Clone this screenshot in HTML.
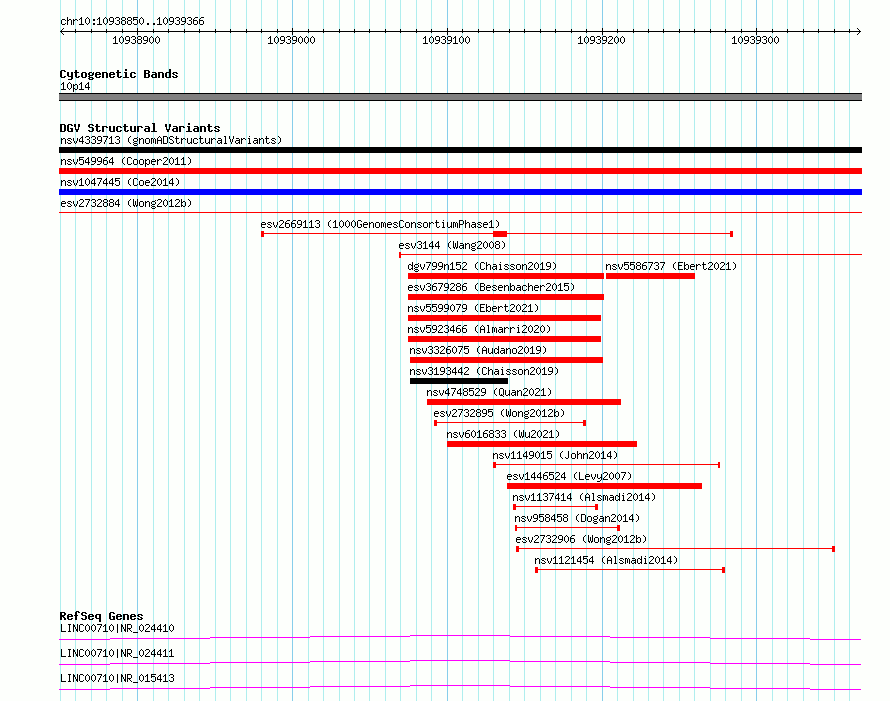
<!DOCTYPE html>
<html lang="en">
<head>
<meta charset="utf-8">
<title>chr10:10938850..10939366</title>
<style>
html,body{margin:0;padding:0;background:#fdfffc;overflow:hidden}
#panel{position:relative;width:890px;height:701px;background:#fdfffc;overflow:hidden}
#panel svg{position:absolute;left:0;top:0;display:block}
.t{position:absolute;margin:0;white-space:pre;color:transparent;font-family:"Liberation Mono",monospace;font-size:10px;line-height:13px;height:13px}
.t.b{font-weight:bold;font-size:11.66px}
</style>
</head>
<body>
<div id="panel">
<svg width="890" height="701" viewBox="0 0 890 701" shape-rendering="crispEdges">
<defs>
<path id="s40" d="M3 3h1v1h-1zM2 4h1v1h-1zM1 5h1v1h-1zM1 6h1v1h-1zM1 7h1v1h-1zM1 8h1v1h-1zM2 9h1v1h-1zM3 10h1v1h-1z"/>
<path id="s41" d="M1 3h1v1h-1zM2 4h1v1h-1zM3 5h1v1h-1zM3 6h1v1h-1zM3 7h1v1h-1zM3 8h1v1h-1zM2 9h1v1h-1zM1 10h1v1h-1z"/>
<path id="s46" d="M2 9h2v1h-2zM2 10h2v1h-2z"/>
<path id="s48" d="M2 3h1v1h-1zM1 4h1v1h-1zM3 4h1v1h-1zM0 5h1v1h-1zM4 5h1v1h-1zM0 6h1v1h-1zM4 6h1v1h-1zM0 7h1v1h-1zM4 7h1v1h-1zM0 8h1v1h-1zM4 8h1v1h-1zM1 9h1v1h-1zM3 9h1v1h-1zM2 10h1v1h-1z"/>
<path id="s49" d="M2 3h1v1h-1zM1 4h2v1h-2zM0 5h1v1h-1zM2 5h1v1h-1zM2 6h1v1h-1zM2 7h1v1h-1zM2 8h1v1h-1zM2 9h1v1h-1zM0 10h5v1h-5z"/>
<path id="s50" d="M1 3h3v1h-3zM0 4h1v1h-1zM4 4h1v1h-1zM4 5h1v1h-1zM3 6h1v1h-1zM2 7h1v1h-1zM1 8h1v1h-1zM0 9h1v1h-1zM0 10h5v1h-5z"/>
<path id="s51" d="M1 3h3v1h-3zM0 4h1v1h-1zM4 4h1v1h-1zM4 5h1v1h-1zM2 6h2v1h-2zM4 7h1v1h-1zM4 8h1v1h-1zM0 9h1v1h-1zM4 9h1v1h-1zM1 10h3v1h-3z"/>
<path id="s52" d="M3 3h1v1h-1zM2 4h2v1h-2zM1 5h1v1h-1zM3 5h1v1h-1zM0 6h1v1h-1zM3 6h1v1h-1zM0 7h1v1h-1zM3 7h1v1h-1zM0 8h5v1h-5zM3 9h1v1h-1zM3 10h1v1h-1z"/>
<path id="s53" d="M0 3h5v1h-5zM0 4h1v1h-1zM0 5h4v1h-4zM0 6h1v1h-1zM4 6h1v1h-1zM4 7h1v1h-1zM4 8h1v1h-1zM0 9h1v1h-1zM4 9h1v1h-1zM1 10h3v1h-3z"/>
<path id="s54" d="M2 3h3v1h-3zM1 4h1v1h-1zM0 5h1v1h-1zM0 6h4v1h-4zM0 7h1v1h-1zM4 7h1v1h-1zM0 8h1v1h-1zM4 8h1v1h-1zM0 9h1v1h-1zM4 9h1v1h-1zM1 10h3v1h-3z"/>
<path id="s55" d="M0 3h5v1h-5zM4 4h1v1h-1zM3 5h1v1h-1zM3 6h1v1h-1zM2 7h1v1h-1zM2 8h1v1h-1zM1 9h1v1h-1zM1 10h1v1h-1z"/>
<path id="s56" d="M1 3h3v1h-3zM0 4h1v1h-1zM4 4h1v1h-1zM0 5h1v1h-1zM4 5h1v1h-1zM1 6h3v1h-3zM0 7h1v1h-1zM4 7h1v1h-1zM0 8h1v1h-1zM4 8h1v1h-1zM0 9h1v1h-1zM4 9h1v1h-1zM1 10h3v1h-3z"/>
<path id="s57" d="M1 3h3v1h-3zM0 4h1v1h-1zM4 4h1v1h-1zM0 5h1v1h-1zM4 5h1v1h-1zM0 6h1v1h-1zM4 6h1v1h-1zM1 7h4v1h-4zM4 8h1v1h-1zM3 9h1v1h-1zM0 10h3v1h-3z"/>
<path id="s58" d="M2 5h2v1h-2zM2 6h2v1h-2zM2 9h2v1h-2zM2 10h2v1h-2z"/>
<path id="s65" d="M2 3h1v1h-1zM1 4h1v1h-1zM3 4h1v1h-1zM0 5h1v1h-1zM4 5h1v1h-1zM0 6h1v1h-1zM4 6h1v1h-1zM0 7h5v1h-5zM0 8h1v1h-1zM4 8h1v1h-1zM0 9h1v1h-1zM4 9h1v1h-1zM0 10h1v1h-1zM4 10h1v1h-1z"/>
<path id="s66" d="M0 3h4v1h-4zM0 4h1v1h-1zM4 4h1v1h-1zM0 5h1v1h-1zM4 5h1v1h-1zM0 6h4v1h-4zM0 7h1v1h-1zM4 7h1v1h-1zM0 8h1v1h-1zM4 8h1v1h-1zM0 9h1v1h-1zM4 9h1v1h-1zM0 10h4v1h-4z"/>
<path id="s67" d="M1 3h3v1h-3zM0 4h1v1h-1zM4 4h1v1h-1zM0 5h1v1h-1zM0 6h1v1h-1zM0 7h1v1h-1zM0 8h1v1h-1zM0 9h1v1h-1zM4 9h1v1h-1zM1 10h3v1h-3z"/>
<path id="s68" d="M0 3h4v1h-4zM0 4h1v1h-1zM4 4h1v1h-1zM0 5h1v1h-1zM4 5h1v1h-1zM0 6h1v1h-1zM4 6h1v1h-1zM0 7h1v1h-1zM4 7h1v1h-1zM0 8h1v1h-1zM4 8h1v1h-1zM0 9h1v1h-1zM4 9h1v1h-1zM0 10h4v1h-4z"/>
<path id="s69" d="M0 3h5v1h-5zM0 4h1v1h-1zM0 5h1v1h-1zM0 6h4v1h-4zM0 7h1v1h-1zM0 8h1v1h-1zM0 9h1v1h-1zM0 10h5v1h-5z"/>
<path id="s71" d="M1 3h3v1h-3zM0 4h1v1h-1zM4 4h1v1h-1zM0 5h1v1h-1zM0 6h1v1h-1zM0 7h1v1h-1zM3 7h2v1h-2zM0 8h1v1h-1zM4 8h1v1h-1zM0 9h1v1h-1zM4 9h1v1h-1zM1 10h3v1h-3z"/>
<path id="s73" d="M1 3h3v1h-3zM2 4h1v1h-1zM2 5h1v1h-1zM2 6h1v1h-1zM2 7h1v1h-1zM2 8h1v1h-1zM2 9h1v1h-1zM1 10h3v1h-3z"/>
<path id="s74" d="M3 3h1v1h-1zM3 4h1v1h-1zM3 5h1v1h-1zM3 6h1v1h-1zM3 7h1v1h-1zM3 8h1v1h-1zM0 9h1v1h-1zM3 9h1v1h-1zM1 10h2v1h-2z"/>
<path id="s76" d="M0 3h1v1h-1zM0 4h1v1h-1zM0 5h1v1h-1zM0 6h1v1h-1zM0 7h1v1h-1zM0 8h1v1h-1zM0 9h1v1h-1zM0 10h5v1h-5z"/>
<path id="s78" d="M0 3h1v1h-1zM4 3h1v1h-1zM0 4h2v1h-2zM4 4h1v1h-1zM0 5h2v1h-2zM4 5h1v1h-1zM0 6h1v1h-1zM2 6h1v1h-1zM4 6h1v1h-1zM0 7h1v1h-1zM2 7h1v1h-1zM4 7h1v1h-1zM0 8h1v1h-1zM3 8h2v1h-2zM0 9h1v1h-1zM3 9h2v1h-2zM0 10h1v1h-1zM4 10h1v1h-1z"/>
<path id="s80" d="M0 3h4v1h-4zM0 4h1v1h-1zM4 4h1v1h-1zM0 5h1v1h-1zM4 5h1v1h-1zM0 6h1v1h-1zM4 6h1v1h-1zM0 7h4v1h-4zM0 8h1v1h-1zM0 9h1v1h-1zM0 10h1v1h-1z"/>
<path id="s81" d="M1 3h3v1h-3zM0 4h1v1h-1zM4 4h1v1h-1zM0 5h1v1h-1zM4 5h1v1h-1zM0 6h1v1h-1zM4 6h1v1h-1zM0 7h1v1h-1zM4 7h1v1h-1zM0 8h1v1h-1zM4 8h1v1h-1zM0 9h1v1h-1zM2 9h1v1h-1zM4 9h1v1h-1zM1 10h3v1h-3zM4 11h1v1h-1z"/>
<path id="s82" d="M0 3h4v1h-4zM0 4h1v1h-1zM4 4h1v1h-1zM0 5h1v1h-1zM4 5h1v1h-1zM0 6h1v1h-1zM4 6h1v1h-1zM0 7h4v1h-4zM0 8h1v1h-1zM2 8h1v1h-1zM0 9h1v1h-1zM3 9h1v1h-1zM0 10h1v1h-1zM4 10h1v1h-1z"/>
<path id="s83" d="M1 3h3v1h-3zM0 4h1v1h-1zM4 4h1v1h-1zM0 5h1v1h-1zM1 6h2v1h-2zM3 7h1v1h-1zM4 8h1v1h-1zM0 9h1v1h-1zM4 9h1v1h-1zM1 10h3v1h-3z"/>
<path id="s86" d="M0 3h1v1h-1zM4 3h1v1h-1zM0 4h1v1h-1zM4 4h1v1h-1zM0 5h1v1h-1zM4 5h1v1h-1zM1 6h1v1h-1zM3 6h1v1h-1zM1 7h1v1h-1zM3 7h1v1h-1zM1 8h1v1h-1zM3 8h1v1h-1zM2 9h1v1h-1zM2 10h1v1h-1z"/>
<path id="s87" d="M0 3h1v1h-1zM4 3h1v1h-1zM0 4h1v1h-1zM4 4h1v1h-1zM0 5h1v1h-1zM2 5h1v1h-1zM4 5h1v1h-1zM0 6h1v1h-1zM2 6h1v1h-1zM4 6h1v1h-1zM0 7h1v1h-1zM2 7h1v1h-1zM4 7h1v1h-1zM0 8h1v1h-1zM2 8h1v1h-1zM4 8h1v1h-1zM0 9h2v1h-2zM3 9h2v1h-2zM1 10h1v1h-1zM3 10h1v1h-1z"/>
<path id="s95" d="M0 11h5v1h-5z"/>
<path id="s97" d="M1 5h3v1h-3zM4 6h1v1h-1zM1 7h4v1h-4zM0 8h1v1h-1zM4 8h1v1h-1zM0 9h1v1h-1zM3 9h2v1h-2zM1 10h2v1h-2zM4 10h1v1h-1z"/>
<path id="s98" d="M0 3h1v1h-1zM0 4h1v1h-1zM0 5h1v1h-1zM2 5h2v1h-2zM0 6h2v1h-2zM4 6h1v1h-1zM0 7h1v1h-1zM4 7h1v1h-1zM0 8h1v1h-1zM4 8h1v1h-1zM0 9h2v1h-2zM4 9h1v1h-1zM0 10h1v1h-1zM2 10h2v1h-2z"/>
<path id="s99" d="M1 5h3v1h-3zM0 6h1v1h-1zM4 6h1v1h-1zM0 7h1v1h-1zM0 8h1v1h-1zM0 9h1v1h-1zM4 9h1v1h-1zM1 10h3v1h-3z"/>
<path id="s100" d="M4 3h1v1h-1zM4 4h1v1h-1zM1 5h2v1h-2zM4 5h1v1h-1zM0 6h1v1h-1zM3 6h2v1h-2zM0 7h1v1h-1zM4 7h1v1h-1zM0 8h1v1h-1zM4 8h1v1h-1zM0 9h1v1h-1zM3 9h2v1h-2zM1 10h2v1h-2zM4 10h1v1h-1z"/>
<path id="s101" d="M1 5h3v1h-3zM0 6h1v1h-1zM4 6h1v1h-1zM0 7h5v1h-5zM0 8h1v1h-1zM0 9h1v1h-1zM1 10h3v1h-3z"/>
<path id="s103" d="M4 4h1v1h-1zM1 5h3v1h-3zM0 6h1v1h-1zM4 6h1v1h-1zM0 7h1v1h-1zM4 7h1v1h-1zM1 8h3v1h-3zM0 9h1v1h-1zM1 10h3v1h-3zM0 11h1v1h-1zM4 11h1v1h-1zM1 12h3v1h-3z"/>
<path id="s104" d="M0 3h1v1h-1zM0 4h1v1h-1zM0 5h1v1h-1zM2 5h2v1h-2zM0 6h2v1h-2zM4 6h1v1h-1zM0 7h1v1h-1zM4 7h1v1h-1zM0 8h1v1h-1zM4 8h1v1h-1zM0 9h1v1h-1zM4 9h1v1h-1zM0 10h1v1h-1zM4 10h1v1h-1z"/>
<path id="s105" d="M2 3h1v1h-1zM1 5h2v1h-2zM2 6h1v1h-1zM2 7h1v1h-1zM2 8h1v1h-1zM2 9h1v1h-1zM1 10h3v1h-3z"/>
<path id="s108" d="M1 3h2v1h-2zM2 4h1v1h-1zM2 5h1v1h-1zM2 6h1v1h-1zM2 7h1v1h-1zM2 8h1v1h-1zM2 9h1v1h-1zM1 10h3v1h-3z"/>
<path id="s109" d="M0 5h2v1h-2zM3 5h1v1h-1zM0 6h1v1h-1zM2 6h1v1h-1zM4 6h1v1h-1zM0 7h1v1h-1zM2 7h1v1h-1zM4 7h1v1h-1zM0 8h1v1h-1zM2 8h1v1h-1zM4 8h1v1h-1zM0 9h1v1h-1zM2 9h1v1h-1zM4 9h1v1h-1zM0 10h1v1h-1zM4 10h1v1h-1z"/>
<path id="s110" d="M0 5h1v1h-1zM2 5h2v1h-2zM0 6h2v1h-2zM4 6h1v1h-1zM0 7h1v1h-1zM4 7h1v1h-1zM0 8h1v1h-1zM4 8h1v1h-1zM0 9h1v1h-1zM4 9h1v1h-1zM0 10h1v1h-1zM4 10h1v1h-1z"/>
<path id="s111" d="M1 5h3v1h-3zM0 6h1v1h-1zM4 6h1v1h-1zM0 7h1v1h-1zM4 7h1v1h-1zM0 8h1v1h-1zM4 8h1v1h-1zM0 9h1v1h-1zM4 9h1v1h-1zM1 10h3v1h-3z"/>
<path id="s112" d="M0 5h1v1h-1zM2 5h2v1h-2zM0 6h2v1h-2zM4 6h1v1h-1zM0 7h1v1h-1zM4 7h1v1h-1zM0 8h1v1h-1zM4 8h1v1h-1zM0 9h2v1h-2zM4 9h1v1h-1zM0 10h1v1h-1zM2 10h2v1h-2zM0 11h1v1h-1zM0 12h1v1h-1z"/>
<path id="s114" d="M0 5h1v1h-1zM2 5h2v1h-2zM0 6h2v1h-2zM4 6h1v1h-1zM0 7h1v1h-1zM0 8h1v1h-1zM0 9h1v1h-1zM0 10h1v1h-1z"/>
<path id="s115" d="M1 5h3v1h-3zM0 6h1v1h-1zM4 6h1v1h-1zM1 7h2v1h-2zM3 8h1v1h-1zM0 9h1v1h-1zM4 9h1v1h-1zM1 10h3v1h-3z"/>
<path id="s116" d="M1 3h1v1h-1zM1 4h1v1h-1zM0 5h4v1h-4zM1 6h1v1h-1zM1 7h1v1h-1zM1 8h1v1h-1zM1 9h1v1h-1zM4 9h1v1h-1zM2 10h2v1h-2z"/>
<path id="s117" d="M0 5h1v1h-1zM4 5h1v1h-1zM0 6h1v1h-1zM4 6h1v1h-1zM0 7h1v1h-1zM4 7h1v1h-1zM0 8h1v1h-1zM4 8h1v1h-1zM0 9h1v1h-1zM3 9h2v1h-2zM1 10h2v1h-2zM4 10h1v1h-1z"/>
<path id="s118" d="M0 5h1v1h-1zM4 5h1v1h-1zM0 6h1v1h-1zM4 6h1v1h-1zM0 7h1v1h-1zM4 7h1v1h-1zM1 8h1v1h-1zM3 8h1v1h-1zM1 9h1v1h-1zM3 9h1v1h-1zM2 10h1v1h-1z"/>
<path id="s121" d="M0 5h1v1h-1zM4 5h1v1h-1zM0 6h1v1h-1zM4 6h1v1h-1zM0 7h1v1h-1zM4 7h1v1h-1zM0 8h1v1h-1zM3 8h2v1h-2zM1 9h2v1h-2zM4 9h1v1h-1zM4 10h1v1h-1zM3 11h1v1h-1zM0 12h3v1h-3z"/>
<path id="s124" d="M2 3h1v1h-1zM2 4h1v1h-1zM2 5h1v1h-1zM2 6h1v1h-1zM2 7h1v1h-1zM2 8h1v1h-1zM2 9h1v1h-1zM2 10h1v1h-1zM2 11h1v1h-1z"/>
<path id="b66" d="M0 3h5v1h-5zM0 4h2v1h-2zM4 4h2v1h-2zM0 5h2v1h-2zM4 5h2v1h-2zM0 6h5v1h-5zM0 7h2v1h-2zM4 7h2v1h-2zM0 8h2v1h-2zM4 8h2v1h-2zM0 9h2v1h-2zM4 9h2v1h-2zM0 10h5v1h-5z"/>
<path id="b67" d="M1 3h4v1h-4zM0 4h2v1h-2zM4 4h2v1h-2zM0 5h2v1h-2zM0 6h2v1h-2zM0 7h2v1h-2zM0 8h2v1h-2zM0 9h2v1h-2zM4 9h2v1h-2zM1 10h4v1h-4z"/>
<path id="b68" d="M0 3h5v1h-5zM0 4h2v1h-2zM4 4h2v1h-2zM0 5h2v1h-2zM4 5h2v1h-2zM0 6h2v1h-2zM4 6h2v1h-2zM0 7h2v1h-2zM4 7h2v1h-2zM0 8h2v1h-2zM4 8h2v1h-2zM0 9h2v1h-2zM4 9h2v1h-2zM0 10h5v1h-5z"/>
<path id="b71" d="M1 3h4v1h-4zM0 4h2v1h-2zM4 4h2v1h-2zM0 5h2v1h-2zM0 6h2v1h-2zM0 7h2v1h-2zM3 7h3v1h-3zM0 8h2v1h-2zM4 8h2v1h-2zM0 9h2v1h-2zM4 9h2v1h-2zM1 10h5v1h-5z"/>
<path id="b82" d="M0 3h5v1h-5zM0 4h2v1h-2zM4 4h2v1h-2zM0 5h2v1h-2zM4 5h2v1h-2zM0 6h5v1h-5zM0 7h4v1h-4zM0 8h2v1h-2zM3 8h2v1h-2zM0 9h2v1h-2zM4 9h2v1h-2zM0 10h2v1h-2zM4 10h2v1h-2z"/>
<path id="b83" d="M1 3h4v1h-4zM0 4h2v1h-2zM4 4h2v1h-2zM0 5h2v1h-2zM1 6h4v1h-4zM4 7h2v1h-2zM4 8h2v1h-2zM0 9h2v1h-2zM4 9h2v1h-2zM1 10h4v1h-4z"/>
<path id="b86" d="M0 3h2v1h-2zM4 3h2v1h-2zM0 4h2v1h-2zM4 4h2v1h-2zM0 5h2v1h-2zM4 5h2v1h-2zM1 6h1v1h-1zM4 6h1v1h-1zM1 7h1v1h-1zM4 7h1v1h-1zM1 8h4v1h-4zM2 9h2v1h-2zM2 10h2v1h-2z"/>
<path id="b97" d="M1 5h4v1h-4zM4 6h2v1h-2zM1 7h5v1h-5zM0 8h2v1h-2zM4 8h2v1h-2zM0 9h2v1h-2zM4 9h2v1h-2zM1 10h5v1h-5z"/>
<path id="b99" d="M1 5h4v1h-4zM0 6h2v1h-2zM4 6h2v1h-2zM0 7h2v1h-2zM0 8h2v1h-2zM0 9h2v1h-2zM4 9h2v1h-2zM1 10h4v1h-4z"/>
<path id="b100" d="M4 2h2v1h-2zM4 3h2v1h-2zM4 4h2v1h-2zM1 5h5v1h-5zM0 6h2v1h-2zM4 6h2v1h-2zM0 7h2v1h-2zM4 7h2v1h-2zM0 8h2v1h-2zM4 8h2v1h-2zM0 9h2v1h-2zM4 9h2v1h-2zM1 10h5v1h-5z"/>
<path id="b101" d="M1 5h4v1h-4zM0 6h2v1h-2zM4 6h2v1h-2zM0 7h6v1h-6zM0 8h2v1h-2zM0 9h2v1h-2zM4 9h2v1h-2zM1 10h4v1h-4z"/>
<path id="b102" d="M2 2h3v1h-3zM1 3h2v1h-2zM4 3h2v1h-2zM1 4h2v1h-2zM1 5h2v1h-2zM0 6h4v1h-4zM1 7h2v1h-2zM1 8h2v1h-2zM1 9h2v1h-2zM1 10h2v1h-2z"/>
<path id="b103" d="M1 5h3v1h-3zM5 5h1v1h-1zM0 6h2v1h-2zM4 6h2v1h-2zM0 7h2v1h-2zM4 7h2v1h-2zM1 8h4v1h-4zM0 9h2v1h-2zM1 10h4v1h-4zM0 11h2v1h-2zM4 11h2v1h-2zM1 12h4v1h-4z"/>
<path id="b105" d="M2 2h2v1h-2zM2 3h2v1h-2zM1 5h3v1h-3zM2 6h2v1h-2zM2 7h2v1h-2zM2 8h2v1h-2zM2 9h2v1h-2zM0 10h6v1h-6z"/>
<path id="b108" d="M1 2h3v1h-3zM2 3h2v1h-2zM2 4h2v1h-2zM2 5h2v1h-2zM2 6h2v1h-2zM2 7h2v1h-2zM2 8h2v1h-2zM2 9h2v1h-2zM0 10h6v1h-6z"/>
<path id="b110" d="M0 5h5v1h-5zM0 6h2v1h-2zM4 6h2v1h-2zM0 7h2v1h-2zM4 7h2v1h-2zM0 8h2v1h-2zM4 8h2v1h-2zM0 9h2v1h-2zM4 9h2v1h-2zM0 10h2v1h-2zM4 10h2v1h-2z"/>
<path id="b111" d="M1 5h4v1h-4zM0 6h2v1h-2zM4 6h2v1h-2zM0 7h2v1h-2zM4 7h2v1h-2zM0 8h2v1h-2zM4 8h2v1h-2zM0 9h2v1h-2zM4 9h2v1h-2zM1 10h4v1h-4z"/>
<path id="b113" d="M1 5h5v1h-5zM0 6h2v1h-2zM4 6h2v1h-2zM0 7h2v1h-2zM4 7h2v1h-2zM0 8h2v1h-2zM4 8h2v1h-2zM1 9h5v1h-5zM4 10h2v1h-2zM4 11h2v1h-2zM4 12h2v1h-2z"/>
<path id="b114" d="M0 5h5v1h-5zM0 6h2v1h-2zM4 6h2v1h-2zM0 7h2v1h-2zM0 8h2v1h-2zM0 9h2v1h-2zM0 10h2v1h-2z"/>
<path id="b115" d="M1 5h4v1h-4zM0 6h2v1h-2zM4 6h2v1h-2zM1 7h2v1h-2zM3 8h2v1h-2zM0 9h2v1h-2zM4 9h2v1h-2zM1 10h4v1h-4z"/>
<path id="b116" d="M1 3h2v1h-2zM1 4h2v1h-2zM0 5h5v1h-5zM1 6h2v1h-2zM1 7h2v1h-2zM1 8h2v1h-2zM1 9h2v1h-2zM4 9h2v1h-2zM2 10h3v1h-3z"/>
<path id="b117" d="M0 5h2v1h-2zM4 5h2v1h-2zM0 6h2v1h-2zM4 6h2v1h-2zM0 7h2v1h-2zM4 7h2v1h-2zM0 8h2v1h-2zM4 8h2v1h-2zM0 9h2v1h-2zM4 9h2v1h-2zM1 10h5v1h-5z"/>
<path id="b121" d="M0 5h2v1h-2zM4 5h2v1h-2zM0 6h2v1h-2zM4 6h2v1h-2zM0 7h2v1h-2zM4 7h2v1h-2zM0 8h2v1h-2zM4 8h2v1h-2zM1 9h5v1h-5zM4 10h2v1h-2zM4 11h2v1h-2zM1 12h4v1h-4z"/>
</defs>
<g id="grid">
<path fill="#afeeee" d="M60 0h1v701h-1zM75 0h1v701h-1zM91 0h1v701h-1zM106 0h1v701h-1zM122 0h1v701h-1zM153 0h1v701h-1zM168 0h1v701h-1zM184 0h1v701h-1zM199 0h1v701h-1zM215 0h1v701h-1zM230 0h1v701h-1zM246 0h1v701h-1zM261 0h1v701h-1zM277 0h1v701h-1zM308 0h1v701h-1zM323 0h1v701h-1zM339 0h1v701h-1zM354 0h1v701h-1zM369 0h1v701h-1zM385 0h1v701h-1zM400 0h1v701h-1zM416 0h1v701h-1zM431 0h1v701h-1zM462 0h1v701h-1zM478 0h1v701h-1zM493 0h1v701h-1zM509 0h1v701h-1zM524 0h1v701h-1zM540 0h1v701h-1zM555 0h1v701h-1zM571 0h1v701h-1zM586 0h1v701h-1zM617 0h1v701h-1zM633 0h1v701h-1zM648 0h1v701h-1zM663 0h1v701h-1zM679 0h1v701h-1zM694 0h1v701h-1zM710 0h1v701h-1zM725 0h1v701h-1zM741 0h1v701h-1zM772 0h1v701h-1zM787 0h1v701h-1zM803 0h1v701h-1zM818 0h1v701h-1zM834 0h1v701h-1zM849 0h1v701h-1z"/>
<path fill="#87ceeb" d="M137 0h1v701h-1zM292 0h1v701h-1zM447 0h1v701h-1zM602 0h1v701h-1zM756 0h1v701h-1z"/>
</g>
<g id="shapes">
<rect x="60" y="31" width="801" height="1" fill="#000"/>
<rect x="61" y="30" width="1" height="1" fill="#000"/>
<rect x="61" y="32" width="1" height="1" fill="#000"/>
<rect x="859" y="30" width="1" height="1" fill="#000"/>
<rect x="859" y="32" width="1" height="1" fill="#000"/>
<rect x="62" y="29" width="1" height="1" fill="#000"/>
<rect x="62" y="33" width="1" height="1" fill="#000"/>
<rect x="858" y="29" width="1" height="1" fill="#000"/>
<rect x="858" y="33" width="1" height="1" fill="#000"/>
<rect x="63" y="28" width="1" height="1" fill="#000"/>
<rect x="63" y="34" width="1" height="1" fill="#000"/>
<rect x="857" y="28" width="1" height="1" fill="#000"/>
<rect x="857" y="34" width="1" height="1" fill="#000"/>
<rect x="75" y="29" width="1" height="4" fill="#000"/>
<rect x="91" y="29" width="1" height="4" fill="#000"/>
<rect x="106" y="29" width="1" height="4" fill="#000"/>
<rect x="122" y="29" width="1" height="4" fill="#000"/>
<rect x="137" y="28" width="1" height="7" fill="#000"/>
<rect x="153" y="29" width="1" height="4" fill="#000"/>
<rect x="168" y="29" width="1" height="4" fill="#000"/>
<rect x="184" y="29" width="1" height="4" fill="#000"/>
<rect x="199" y="29" width="1" height="4" fill="#000"/>
<rect x="215" y="29" width="1" height="4" fill="#000"/>
<rect x="230" y="29" width="1" height="4" fill="#000"/>
<rect x="246" y="29" width="1" height="4" fill="#000"/>
<rect x="261" y="29" width="1" height="4" fill="#000"/>
<rect x="277" y="29" width="1" height="4" fill="#000"/>
<rect x="292" y="28" width="1" height="7" fill="#000"/>
<rect x="308" y="29" width="1" height="4" fill="#000"/>
<rect x="323" y="29" width="1" height="4" fill="#000"/>
<rect x="339" y="29" width="1" height="4" fill="#000"/>
<rect x="354" y="29" width="1" height="4" fill="#000"/>
<rect x="369" y="29" width="1" height="4" fill="#000"/>
<rect x="385" y="29" width="1" height="4" fill="#000"/>
<rect x="400" y="29" width="1" height="4" fill="#000"/>
<rect x="416" y="29" width="1" height="4" fill="#000"/>
<rect x="431" y="29" width="1" height="4" fill="#000"/>
<rect x="447" y="28" width="1" height="7" fill="#000"/>
<rect x="462" y="29" width="1" height="4" fill="#000"/>
<rect x="478" y="29" width="1" height="4" fill="#000"/>
<rect x="493" y="29" width="1" height="4" fill="#000"/>
<rect x="509" y="29" width="1" height="4" fill="#000"/>
<rect x="524" y="29" width="1" height="4" fill="#000"/>
<rect x="540" y="29" width="1" height="4" fill="#000"/>
<rect x="555" y="29" width="1" height="4" fill="#000"/>
<rect x="571" y="29" width="1" height="4" fill="#000"/>
<rect x="586" y="29" width="1" height="4" fill="#000"/>
<rect x="602" y="28" width="1" height="7" fill="#000"/>
<rect x="617" y="29" width="1" height="4" fill="#000"/>
<rect x="633" y="29" width="1" height="4" fill="#000"/>
<rect x="648" y="29" width="1" height="4" fill="#000"/>
<rect x="663" y="29" width="1" height="4" fill="#000"/>
<rect x="679" y="29" width="1" height="4" fill="#000"/>
<rect x="694" y="29" width="1" height="4" fill="#000"/>
<rect x="710" y="29" width="1" height="4" fill="#000"/>
<rect x="725" y="29" width="1" height="4" fill="#000"/>
<rect x="741" y="29" width="1" height="4" fill="#000"/>
<rect x="756" y="28" width="1" height="7" fill="#000"/>
<rect x="772" y="29" width="1" height="4" fill="#000"/>
<rect x="787" y="29" width="1" height="4" fill="#000"/>
<rect x="803" y="29" width="1" height="4" fill="#000"/>
<rect x="818" y="29" width="1" height="4" fill="#000"/>
<rect x="834" y="29" width="1" height="4" fill="#000"/>
<rect x="849" y="29" width="1" height="4" fill="#000"/>
<rect x="59" y="93" width="803" height="1" fill="#000"/>
<rect x="59" y="100" width="803" height="1" fill="#000"/>
<rect x="59" y="94" width="803" height="6" fill="#808080"/>
<rect x="59" y="147" width="803" height="6" fill="#000"/>
<rect x="59" y="168" width="803" height="6" fill="#f00"/>
<rect x="59" y="189" width="803" height="6" fill="#00f"/>
<rect x="59" y="212" width="803" height="1" fill="#f00"/>
<rect x="261" y="233" width="472" height="1" fill="#f00"/>
<rect x="261" y="231" width="3" height="6" fill="#f00"/>
<rect x="730" y="231" width="3" height="6" fill="#f00"/>
<rect x="493" y="231" width="14" height="6" fill="#f00"/>
<rect x="399" y="254" width="463" height="1" fill="#f00"/>
<rect x="399" y="252" width="2" height="6" fill="#f00"/>
<rect x="408" y="273" width="196" height="6" fill="#f00"/>
<rect x="606" y="273" width="89" height="6" fill="#f00"/>
<rect x="408" y="294" width="196" height="6" fill="#f00"/>
<rect x="408" y="315" width="193" height="6" fill="#f00"/>
<rect x="408" y="336" width="193" height="6" fill="#f00"/>
<rect x="410" y="357" width="193" height="6" fill="#f00"/>
<rect x="410" y="378" width="98" height="6" fill="#000"/>
<rect x="427" y="399" width="194" height="6" fill="#f00"/>
<rect x="434" y="422" width="152" height="1" fill="#f00"/>
<rect x="434" y="420" width="3" height="6" fill="#f00"/>
<rect x="583" y="420" width="3" height="6" fill="#f00"/>
<rect x="447" y="441" width="190" height="6" fill="#f00"/>
<rect x="493" y="464" width="227" height="1" fill="#f00"/>
<rect x="493" y="462" width="3" height="6" fill="#f00"/>
<rect x="718" y="462" width="2" height="6" fill="#f00"/>
<rect x="507" y="483" width="195" height="6" fill="#f00"/>
<rect x="513" y="506" width="85" height="1" fill="#f00"/>
<rect x="513" y="504" width="3" height="6" fill="#f00"/>
<rect x="595" y="504" width="3" height="6" fill="#f00"/>
<rect x="515" y="527" width="105" height="1" fill="#f00"/>
<rect x="515" y="525" width="2" height="6" fill="#f00"/>
<rect x="617" y="525" width="3" height="6" fill="#f00"/>
<rect x="516" y="548" width="319" height="1" fill="#f00"/>
<rect x="516" y="546" width="3" height="6" fill="#f00"/>
<rect x="832" y="546" width="3" height="6" fill="#f00"/>
<rect x="535" y="569" width="190" height="1" fill="#f00"/>
<rect x="535" y="567" width="3" height="6" fill="#f00"/>
<rect x="722" y="567" width="3" height="6" fill="#f00"/>
<rect x="59" y="639" width="51" height="1" fill="#f0f"/>
<rect x="110" y="638" width="100" height="1" fill="#f0f"/>
<rect x="210" y="637" width="100" height="1" fill="#f0f"/>
<rect x="310" y="636" width="100" height="1" fill="#f0f"/>
<rect x="410" y="635" width="100" height="1" fill="#f0f"/>
<rect x="510" y="636" width="100" height="1" fill="#f0f"/>
<rect x="610" y="637" width="100" height="1" fill="#f0f"/>
<rect x="710" y="638" width="100" height="1" fill="#f0f"/>
<rect x="810" y="639" width="51" height="1" fill="#f0f"/>
<rect x="59" y="664" width="51" height="1" fill="#f0f"/>
<rect x="110" y="663" width="100" height="1" fill="#f0f"/>
<rect x="210" y="662" width="100" height="1" fill="#f0f"/>
<rect x="310" y="661" width="100" height="1" fill="#f0f"/>
<rect x="410" y="660" width="100" height="1" fill="#f0f"/>
<rect x="510" y="661" width="100" height="1" fill="#f0f"/>
<rect x="610" y="662" width="100" height="1" fill="#f0f"/>
<rect x="710" y="663" width="100" height="1" fill="#f0f"/>
<rect x="810" y="664" width="51" height="1" fill="#f0f"/>
<rect x="59" y="689" width="51" height="1" fill="#f0f"/>
<rect x="110" y="688" width="100" height="1" fill="#f0f"/>
<rect x="210" y="687" width="100" height="1" fill="#f0f"/>
<rect x="310" y="686" width="100" height="1" fill="#f0f"/>
<rect x="410" y="685" width="100" height="1" fill="#f0f"/>
<rect x="510" y="686" width="100" height="1" fill="#f0f"/>
<rect x="610" y="687" width="100" height="1" fill="#f0f"/>
<rect x="710" y="688" width="100" height="1" fill="#f0f"/>
<rect x="810" y="689" width="51" height="1" fill="#f0f"/>
</g>
<g id="glyphs" fill="#000">
<g><use href="#s99" x="61" y="14"/><use href="#s104" x="67" y="14"/><use href="#s114" x="73" y="14"/><use href="#s49" x="79" y="14"/><use href="#s48" x="85" y="14"/><use href="#s58" x="91" y="14"/><use href="#s49" x="97" y="14"/><use href="#s48" x="103" y="14"/><use href="#s57" x="109" y="14"/><use href="#s51" x="115" y="14"/><use href="#s56" x="121" y="14"/><use href="#s56" x="127" y="14"/><use href="#s53" x="133" y="14"/><use href="#s48" x="139" y="14"/><use href="#s46" x="145" y="14"/><use href="#s46" x="151" y="14"/><use href="#s49" x="157" y="14"/><use href="#s48" x="163" y="14"/><use href="#s57" x="169" y="14"/><use href="#s51" x="175" y="14"/><use href="#s57" x="181" y="14"/><use href="#s51" x="187" y="14"/><use href="#s54" x="193" y="14"/><use href="#s54" x="199" y="14"/></g>
<g><use href="#s49" x="113" y="33"/><use href="#s48" x="119" y="33"/><use href="#s57" x="125" y="33"/><use href="#s51" x="131" y="33"/><use href="#s56" x="137" y="33"/><use href="#s57" x="143" y="33"/><use href="#s48" x="149" y="33"/><use href="#s48" x="155" y="33"/></g>
<g><use href="#s49" x="268" y="33"/><use href="#s48" x="274" y="33"/><use href="#s57" x="280" y="33"/><use href="#s51" x="286" y="33"/><use href="#s57" x="292" y="33"/><use href="#s48" x="298" y="33"/><use href="#s48" x="304" y="33"/><use href="#s48" x="310" y="33"/></g>
<g><use href="#s49" x="423" y="33"/><use href="#s48" x="429" y="33"/><use href="#s57" x="435" y="33"/><use href="#s51" x="441" y="33"/><use href="#s57" x="447" y="33"/><use href="#s49" x="453" y="33"/><use href="#s48" x="459" y="33"/><use href="#s48" x="465" y="33"/></g>
<g><use href="#s49" x="578" y="33"/><use href="#s48" x="584" y="33"/><use href="#s57" x="590" y="33"/><use href="#s51" x="596" y="33"/><use href="#s57" x="602" y="33"/><use href="#s50" x="608" y="33"/><use href="#s48" x="614" y="33"/><use href="#s48" x="620" y="33"/></g>
<g><use href="#s49" x="732" y="33"/><use href="#s48" x="738" y="33"/><use href="#s57" x="744" y="33"/><use href="#s51" x="750" y="33"/><use href="#s57" x="756" y="33"/><use href="#s51" x="762" y="33"/><use href="#s48" x="768" y="33"/><use href="#s48" x="774" y="33"/></g>
<g><use href="#b67" x="60" y="67"/><use href="#b121" x="67" y="67"/><use href="#b116" x="74" y="67"/><use href="#b111" x="81" y="67"/><use href="#b103" x="88" y="67"/><use href="#b101" x="95" y="67"/><use href="#b110" x="102" y="67"/><use href="#b101" x="109" y="67"/><use href="#b116" x="116" y="67"/><use href="#b105" x="123" y="67"/><use href="#b99" x="130" y="67"/><use href="#b66" x="144" y="67"/><use href="#b97" x="151" y="67"/><use href="#b110" x="158" y="67"/><use href="#b100" x="165" y="67"/><use href="#b115" x="172" y="67"/></g>
<g><use href="#s49" x="61" y="79"/><use href="#s48" x="67" y="79"/><use href="#s112" x="73" y="79"/><use href="#s49" x="79" y="79"/><use href="#s52" x="85" y="79"/></g>
<g><use href="#b68" x="60" y="121"/><use href="#b71" x="67" y="121"/><use href="#b86" x="74" y="121"/><use href="#b83" x="88" y="121"/><use href="#b116" x="95" y="121"/><use href="#b114" x="102" y="121"/><use href="#b117" x="109" y="121"/><use href="#b99" x="116" y="121"/><use href="#b116" x="123" y="121"/><use href="#b117" x="130" y="121"/><use href="#b114" x="137" y="121"/><use href="#b97" x="144" y="121"/><use href="#b108" x="151" y="121"/><use href="#b86" x="165" y="121"/><use href="#b97" x="172" y="121"/><use href="#b114" x="179" y="121"/><use href="#b105" x="186" y="121"/><use href="#b97" x="193" y="121"/><use href="#b110" x="200" y="121"/><use href="#b116" x="207" y="121"/><use href="#b115" x="214" y="121"/></g>
<g><use href="#s110" x="61" y="133"/><use href="#s115" x="67" y="133"/><use href="#s118" x="73" y="133"/><use href="#s52" x="79" y="133"/><use href="#s51" x="85" y="133"/><use href="#s51" x="91" y="133"/><use href="#s57" x="97" y="133"/><use href="#s55" x="103" y="133"/><use href="#s49" x="109" y="133"/><use href="#s51" x="115" y="133"/><use href="#s40" x="127" y="133"/><use href="#s103" x="133" y="133"/><use href="#s110" x="139" y="133"/><use href="#s111" x="145" y="133"/><use href="#s109" x="151" y="133"/><use href="#s65" x="157" y="133"/><use href="#s68" x="163" y="133"/><use href="#s83" x="169" y="133"/><use href="#s116" x="175" y="133"/><use href="#s114" x="181" y="133"/><use href="#s117" x="187" y="133"/><use href="#s99" x="193" y="133"/><use href="#s116" x="199" y="133"/><use href="#s117" x="205" y="133"/><use href="#s114" x="211" y="133"/><use href="#s97" x="217" y="133"/><use href="#s108" x="223" y="133"/><use href="#s86" x="229" y="133"/><use href="#s97" x="235" y="133"/><use href="#s114" x="241" y="133"/><use href="#s105" x="247" y="133"/><use href="#s97" x="253" y="133"/><use href="#s110" x="259" y="133"/><use href="#s116" x="265" y="133"/><use href="#s115" x="271" y="133"/><use href="#s41" x="277" y="133"/></g>
<g><use href="#s110" x="61" y="154"/><use href="#s115" x="67" y="154"/><use href="#s118" x="73" y="154"/><use href="#s53" x="79" y="154"/><use href="#s52" x="85" y="154"/><use href="#s57" x="91" y="154"/><use href="#s57" x="97" y="154"/><use href="#s54" x="103" y="154"/><use href="#s52" x="109" y="154"/><use href="#s40" x="121" y="154"/><use href="#s67" x="127" y="154"/><use href="#s111" x="133" y="154"/><use href="#s111" x="139" y="154"/><use href="#s112" x="145" y="154"/><use href="#s101" x="151" y="154"/><use href="#s114" x="157" y="154"/><use href="#s50" x="163" y="154"/><use href="#s48" x="169" y="154"/><use href="#s49" x="175" y="154"/><use href="#s49" x="181" y="154"/><use href="#s41" x="187" y="154"/></g>
<g><use href="#s110" x="61" y="175"/><use href="#s115" x="67" y="175"/><use href="#s118" x="73" y="175"/><use href="#s49" x="79" y="175"/><use href="#s48" x="85" y="175"/><use href="#s52" x="91" y="175"/><use href="#s55" x="97" y="175"/><use href="#s52" x="103" y="175"/><use href="#s52" x="109" y="175"/><use href="#s53" x="115" y="175"/><use href="#s40" x="127" y="175"/><use href="#s67" x="133" y="175"/><use href="#s111" x="139" y="175"/><use href="#s101" x="145" y="175"/><use href="#s50" x="151" y="175"/><use href="#s48" x="157" y="175"/><use href="#s49" x="163" y="175"/><use href="#s52" x="169" y="175"/><use href="#s41" x="175" y="175"/></g>
<g><use href="#s101" x="61" y="196"/><use href="#s115" x="67" y="196"/><use href="#s118" x="73" y="196"/><use href="#s50" x="79" y="196"/><use href="#s55" x="85" y="196"/><use href="#s51" x="91" y="196"/><use href="#s50" x="97" y="196"/><use href="#s56" x="103" y="196"/><use href="#s56" x="109" y="196"/><use href="#s52" x="115" y="196"/><use href="#s40" x="127" y="196"/><use href="#s87" x="133" y="196"/><use href="#s111" x="139" y="196"/><use href="#s110" x="145" y="196"/><use href="#s103" x="151" y="196"/><use href="#s50" x="157" y="196"/><use href="#s48" x="163" y="196"/><use href="#s49" x="169" y="196"/><use href="#s50" x="175" y="196"/><use href="#s98" x="181" y="196"/><use href="#s41" x="187" y="196"/></g>
<g><use href="#s101" x="261" y="217"/><use href="#s115" x="267" y="217"/><use href="#s118" x="273" y="217"/><use href="#s50" x="279" y="217"/><use href="#s54" x="285" y="217"/><use href="#s54" x="291" y="217"/><use href="#s57" x="297" y="217"/><use href="#s49" x="303" y="217"/><use href="#s49" x="309" y="217"/><use href="#s51" x="315" y="217"/><use href="#s40" x="327" y="217"/><use href="#s49" x="333" y="217"/><use href="#s48" x="339" y="217"/><use href="#s48" x="345" y="217"/><use href="#s48" x="351" y="217"/><use href="#s71" x="357" y="217"/><use href="#s101" x="363" y="217"/><use href="#s110" x="369" y="217"/><use href="#s111" x="375" y="217"/><use href="#s109" x="381" y="217"/><use href="#s101" x="387" y="217"/><use href="#s115" x="393" y="217"/><use href="#s67" x="399" y="217"/><use href="#s111" x="405" y="217"/><use href="#s110" x="411" y="217"/><use href="#s115" x="417" y="217"/><use href="#s111" x="423" y="217"/><use href="#s114" x="429" y="217"/><use href="#s116" x="435" y="217"/><use href="#s105" x="441" y="217"/><use href="#s117" x="447" y="217"/><use href="#s109" x="453" y="217"/><use href="#s80" x="459" y="217"/><use href="#s104" x="465" y="217"/><use href="#s97" x="471" y="217"/><use href="#s115" x="477" y="217"/><use href="#s101" x="483" y="217"/><use href="#s49" x="489" y="217"/><use href="#s41" x="495" y="217"/></g>
<g><use href="#s101" x="399" y="238"/><use href="#s115" x="405" y="238"/><use href="#s118" x="411" y="238"/><use href="#s51" x="417" y="238"/><use href="#s49" x="423" y="238"/><use href="#s52" x="429" y="238"/><use href="#s52" x="435" y="238"/><use href="#s40" x="447" y="238"/><use href="#s87" x="453" y="238"/><use href="#s97" x="459" y="238"/><use href="#s110" x="465" y="238"/><use href="#s103" x="471" y="238"/><use href="#s50" x="477" y="238"/><use href="#s48" x="483" y="238"/><use href="#s48" x="489" y="238"/><use href="#s56" x="495" y="238"/><use href="#s41" x="501" y="238"/></g>
<g><use href="#s100" x="408" y="259"/><use href="#s103" x="414" y="259"/><use href="#s118" x="420" y="259"/><use href="#s55" x="426" y="259"/><use href="#s57" x="432" y="259"/><use href="#s57" x="438" y="259"/><use href="#s110" x="444" y="259"/><use href="#s49" x="450" y="259"/><use href="#s53" x="456" y="259"/><use href="#s50" x="462" y="259"/><use href="#s40" x="474" y="259"/><use href="#s67" x="480" y="259"/><use href="#s104" x="486" y="259"/><use href="#s97" x="492" y="259"/><use href="#s105" x="498" y="259"/><use href="#s115" x="504" y="259"/><use href="#s115" x="510" y="259"/><use href="#s111" x="516" y="259"/><use href="#s110" x="522" y="259"/><use href="#s50" x="528" y="259"/><use href="#s48" x="534" y="259"/><use href="#s49" x="540" y="259"/><use href="#s57" x="546" y="259"/><use href="#s41" x="552" y="259"/></g>
<g><use href="#s110" x="606" y="259"/><use href="#s115" x="612" y="259"/><use href="#s118" x="618" y="259"/><use href="#s53" x="624" y="259"/><use href="#s53" x="630" y="259"/><use href="#s56" x="636" y="259"/><use href="#s54" x="642" y="259"/><use href="#s55" x="648" y="259"/><use href="#s51" x="654" y="259"/><use href="#s55" x="660" y="259"/><use href="#s40" x="672" y="259"/><use href="#s69" x="678" y="259"/><use href="#s98" x="684" y="259"/><use href="#s101" x="690" y="259"/><use href="#s114" x="696" y="259"/><use href="#s116" x="702" y="259"/><use href="#s50" x="708" y="259"/><use href="#s48" x="714" y="259"/><use href="#s50" x="720" y="259"/><use href="#s49" x="726" y="259"/><use href="#s41" x="732" y="259"/></g>
<g><use href="#s101" x="408" y="280"/><use href="#s115" x="414" y="280"/><use href="#s118" x="420" y="280"/><use href="#s51" x="426" y="280"/><use href="#s54" x="432" y="280"/><use href="#s55" x="438" y="280"/><use href="#s57" x="444" y="280"/><use href="#s50" x="450" y="280"/><use href="#s56" x="456" y="280"/><use href="#s54" x="462" y="280"/><use href="#s40" x="474" y="280"/><use href="#s66" x="480" y="280"/><use href="#s101" x="486" y="280"/><use href="#s115" x="492" y="280"/><use href="#s101" x="498" y="280"/><use href="#s110" x="504" y="280"/><use href="#s98" x="510" y="280"/><use href="#s97" x="516" y="280"/><use href="#s99" x="522" y="280"/><use href="#s104" x="528" y="280"/><use href="#s101" x="534" y="280"/><use href="#s114" x="540" y="280"/><use href="#s50" x="546" y="280"/><use href="#s48" x="552" y="280"/><use href="#s49" x="558" y="280"/><use href="#s53" x="564" y="280"/><use href="#s41" x="570" y="280"/></g>
<g><use href="#s110" x="408" y="301"/><use href="#s115" x="414" y="301"/><use href="#s118" x="420" y="301"/><use href="#s53" x="426" y="301"/><use href="#s53" x="432" y="301"/><use href="#s57" x="438" y="301"/><use href="#s57" x="444" y="301"/><use href="#s48" x="450" y="301"/><use href="#s55" x="456" y="301"/><use href="#s57" x="462" y="301"/><use href="#s40" x="474" y="301"/><use href="#s69" x="480" y="301"/><use href="#s98" x="486" y="301"/><use href="#s101" x="492" y="301"/><use href="#s114" x="498" y="301"/><use href="#s116" x="504" y="301"/><use href="#s50" x="510" y="301"/><use href="#s48" x="516" y="301"/><use href="#s50" x="522" y="301"/><use href="#s49" x="528" y="301"/><use href="#s41" x="534" y="301"/></g>
<g><use href="#s110" x="408" y="322"/><use href="#s115" x="414" y="322"/><use href="#s118" x="420" y="322"/><use href="#s53" x="426" y="322"/><use href="#s57" x="432" y="322"/><use href="#s50" x="438" y="322"/><use href="#s51" x="444" y="322"/><use href="#s52" x="450" y="322"/><use href="#s54" x="456" y="322"/><use href="#s54" x="462" y="322"/><use href="#s40" x="474" y="322"/><use href="#s65" x="480" y="322"/><use href="#s108" x="486" y="322"/><use href="#s109" x="492" y="322"/><use href="#s97" x="498" y="322"/><use href="#s114" x="504" y="322"/><use href="#s114" x="510" y="322"/><use href="#s105" x="516" y="322"/><use href="#s50" x="522" y="322"/><use href="#s48" x="528" y="322"/><use href="#s50" x="534" y="322"/><use href="#s48" x="540" y="322"/><use href="#s41" x="546" y="322"/></g>
<g><use href="#s110" x="410" y="343"/><use href="#s115" x="416" y="343"/><use href="#s118" x="422" y="343"/><use href="#s51" x="428" y="343"/><use href="#s51" x="434" y="343"/><use href="#s50" x="440" y="343"/><use href="#s54" x="446" y="343"/><use href="#s48" x="452" y="343"/><use href="#s55" x="458" y="343"/><use href="#s53" x="464" y="343"/><use href="#s40" x="476" y="343"/><use href="#s65" x="482" y="343"/><use href="#s117" x="488" y="343"/><use href="#s100" x="494" y="343"/><use href="#s97" x="500" y="343"/><use href="#s110" x="506" y="343"/><use href="#s111" x="512" y="343"/><use href="#s50" x="518" y="343"/><use href="#s48" x="524" y="343"/><use href="#s49" x="530" y="343"/><use href="#s57" x="536" y="343"/><use href="#s41" x="542" y="343"/></g>
<g><use href="#s110" x="410" y="364"/><use href="#s115" x="416" y="364"/><use href="#s118" x="422" y="364"/><use href="#s51" x="428" y="364"/><use href="#s49" x="434" y="364"/><use href="#s57" x="440" y="364"/><use href="#s51" x="446" y="364"/><use href="#s52" x="452" y="364"/><use href="#s52" x="458" y="364"/><use href="#s50" x="464" y="364"/><use href="#s40" x="476" y="364"/><use href="#s67" x="482" y="364"/><use href="#s104" x="488" y="364"/><use href="#s97" x="494" y="364"/><use href="#s105" x="500" y="364"/><use href="#s115" x="506" y="364"/><use href="#s115" x="512" y="364"/><use href="#s111" x="518" y="364"/><use href="#s110" x="524" y="364"/><use href="#s50" x="530" y="364"/><use href="#s48" x="536" y="364"/><use href="#s49" x="542" y="364"/><use href="#s57" x="548" y="364"/><use href="#s41" x="554" y="364"/></g>
<g><use href="#s110" x="427" y="385"/><use href="#s115" x="433" y="385"/><use href="#s118" x="439" y="385"/><use href="#s52" x="445" y="385"/><use href="#s55" x="451" y="385"/><use href="#s52" x="457" y="385"/><use href="#s56" x="463" y="385"/><use href="#s53" x="469" y="385"/><use href="#s50" x="475" y="385"/><use href="#s57" x="481" y="385"/><use href="#s40" x="493" y="385"/><use href="#s81" x="499" y="385"/><use href="#s117" x="505" y="385"/><use href="#s97" x="511" y="385"/><use href="#s110" x="517" y="385"/><use href="#s50" x="523" y="385"/><use href="#s48" x="529" y="385"/><use href="#s50" x="535" y="385"/><use href="#s49" x="541" y="385"/><use href="#s41" x="547" y="385"/></g>
<g><use href="#s101" x="434" y="406"/><use href="#s115" x="440" y="406"/><use href="#s118" x="446" y="406"/><use href="#s50" x="452" y="406"/><use href="#s55" x="458" y="406"/><use href="#s51" x="464" y="406"/><use href="#s50" x="470" y="406"/><use href="#s56" x="476" y="406"/><use href="#s57" x="482" y="406"/><use href="#s53" x="488" y="406"/><use href="#s40" x="500" y="406"/><use href="#s87" x="506" y="406"/><use href="#s111" x="512" y="406"/><use href="#s110" x="518" y="406"/><use href="#s103" x="524" y="406"/><use href="#s50" x="530" y="406"/><use href="#s48" x="536" y="406"/><use href="#s49" x="542" y="406"/><use href="#s50" x="548" y="406"/><use href="#s98" x="554" y="406"/><use href="#s41" x="560" y="406"/></g>
<g><use href="#s110" x="447" y="427"/><use href="#s115" x="453" y="427"/><use href="#s118" x="459" y="427"/><use href="#s54" x="465" y="427"/><use href="#s48" x="471" y="427"/><use href="#s49" x="477" y="427"/><use href="#s54" x="483" y="427"/><use href="#s56" x="489" y="427"/><use href="#s51" x="495" y="427"/><use href="#s51" x="501" y="427"/><use href="#s40" x="513" y="427"/><use href="#s87" x="519" y="427"/><use href="#s117" x="525" y="427"/><use href="#s50" x="531" y="427"/><use href="#s48" x="537" y="427"/><use href="#s50" x="543" y="427"/><use href="#s49" x="549" y="427"/><use href="#s41" x="555" y="427"/></g>
<g><use href="#s110" x="493" y="448"/><use href="#s115" x="499" y="448"/><use href="#s118" x="505" y="448"/><use href="#s49" x="511" y="448"/><use href="#s49" x="517" y="448"/><use href="#s52" x="523" y="448"/><use href="#s57" x="529" y="448"/><use href="#s48" x="535" y="448"/><use href="#s49" x="541" y="448"/><use href="#s53" x="547" y="448"/><use href="#s40" x="559" y="448"/><use href="#s74" x="565" y="448"/><use href="#s111" x="571" y="448"/><use href="#s104" x="577" y="448"/><use href="#s110" x="583" y="448"/><use href="#s50" x="589" y="448"/><use href="#s48" x="595" y="448"/><use href="#s49" x="601" y="448"/><use href="#s52" x="607" y="448"/><use href="#s41" x="613" y="448"/></g>
<g><use href="#s101" x="507" y="469"/><use href="#s115" x="513" y="469"/><use href="#s118" x="519" y="469"/><use href="#s49" x="525" y="469"/><use href="#s52" x="531" y="469"/><use href="#s52" x="537" y="469"/><use href="#s54" x="543" y="469"/><use href="#s53" x="549" y="469"/><use href="#s50" x="555" y="469"/><use href="#s52" x="561" y="469"/><use href="#s40" x="573" y="469"/><use href="#s76" x="579" y="469"/><use href="#s101" x="585" y="469"/><use href="#s118" x="591" y="469"/><use href="#s121" x="597" y="469"/><use href="#s50" x="603" y="469"/><use href="#s48" x="609" y="469"/><use href="#s48" x="615" y="469"/><use href="#s55" x="621" y="469"/><use href="#s41" x="627" y="469"/></g>
<g><use href="#s110" x="513" y="490"/><use href="#s115" x="519" y="490"/><use href="#s118" x="525" y="490"/><use href="#s49" x="531" y="490"/><use href="#s49" x="537" y="490"/><use href="#s51" x="543" y="490"/><use href="#s55" x="549" y="490"/><use href="#s52" x="555" y="490"/><use href="#s49" x="561" y="490"/><use href="#s52" x="567" y="490"/><use href="#s40" x="579" y="490"/><use href="#s65" x="585" y="490"/><use href="#s108" x="591" y="490"/><use href="#s115" x="597" y="490"/><use href="#s109" x="603" y="490"/><use href="#s97" x="609" y="490"/><use href="#s100" x="615" y="490"/><use href="#s105" x="621" y="490"/><use href="#s50" x="627" y="490"/><use href="#s48" x="633" y="490"/><use href="#s49" x="639" y="490"/><use href="#s52" x="645" y="490"/><use href="#s41" x="651" y="490"/></g>
<g><use href="#s110" x="515" y="511"/><use href="#s115" x="521" y="511"/><use href="#s118" x="527" y="511"/><use href="#s57" x="533" y="511"/><use href="#s53" x="539" y="511"/><use href="#s56" x="545" y="511"/><use href="#s52" x="551" y="511"/><use href="#s53" x="557" y="511"/><use href="#s56" x="563" y="511"/><use href="#s40" x="575" y="511"/><use href="#s68" x="581" y="511"/><use href="#s111" x="587" y="511"/><use href="#s103" x="593" y="511"/><use href="#s97" x="599" y="511"/><use href="#s110" x="605" y="511"/><use href="#s50" x="611" y="511"/><use href="#s48" x="617" y="511"/><use href="#s49" x="623" y="511"/><use href="#s52" x="629" y="511"/><use href="#s41" x="635" y="511"/></g>
<g><use href="#s101" x="516" y="532"/><use href="#s115" x="522" y="532"/><use href="#s118" x="528" y="532"/><use href="#s50" x="534" y="532"/><use href="#s55" x="540" y="532"/><use href="#s51" x="546" y="532"/><use href="#s50" x="552" y="532"/><use href="#s57" x="558" y="532"/><use href="#s48" x="564" y="532"/><use href="#s54" x="570" y="532"/><use href="#s40" x="582" y="532"/><use href="#s87" x="588" y="532"/><use href="#s111" x="594" y="532"/><use href="#s110" x="600" y="532"/><use href="#s103" x="606" y="532"/><use href="#s50" x="612" y="532"/><use href="#s48" x="618" y="532"/><use href="#s49" x="624" y="532"/><use href="#s50" x="630" y="532"/><use href="#s98" x="636" y="532"/><use href="#s41" x="642" y="532"/></g>
<g><use href="#s110" x="535" y="553"/><use href="#s115" x="541" y="553"/><use href="#s118" x="547" y="553"/><use href="#s49" x="553" y="553"/><use href="#s49" x="559" y="553"/><use href="#s50" x="565" y="553"/><use href="#s49" x="571" y="553"/><use href="#s52" x="577" y="553"/><use href="#s53" x="583" y="553"/><use href="#s52" x="589" y="553"/><use href="#s40" x="601" y="553"/><use href="#s65" x="607" y="553"/><use href="#s108" x="613" y="553"/><use href="#s115" x="619" y="553"/><use href="#s109" x="625" y="553"/><use href="#s97" x="631" y="553"/><use href="#s100" x="637" y="553"/><use href="#s105" x="643" y="553"/><use href="#s50" x="649" y="553"/><use href="#s48" x="655" y="553"/><use href="#s49" x="661" y="553"/><use href="#s52" x="667" y="553"/><use href="#s41" x="673" y="553"/></g>
<g><use href="#b82" x="60" y="609"/><use href="#b101" x="67" y="609"/><use href="#b102" x="74" y="609"/><use href="#b83" x="81" y="609"/><use href="#b101" x="88" y="609"/><use href="#b113" x="95" y="609"/><use href="#b71" x="109" y="609"/><use href="#b101" x="116" y="609"/><use href="#b110" x="123" y="609"/><use href="#b101" x="130" y="609"/><use href="#b115" x="137" y="609"/></g>
<g><use href="#s76" x="61" y="621"/><use href="#s73" x="67" y="621"/><use href="#s78" x="73" y="621"/><use href="#s67" x="79" y="621"/><use href="#s48" x="85" y="621"/><use href="#s48" x="91" y="621"/><use href="#s55" x="97" y="621"/><use href="#s49" x="103" y="621"/><use href="#s48" x="109" y="621"/><use href="#s124" x="115" y="621"/><use href="#s78" x="121" y="621"/><use href="#s82" x="127" y="621"/><use href="#s95" x="133" y="621"/><use href="#s48" x="139" y="621"/><use href="#s50" x="145" y="621"/><use href="#s52" x="151" y="621"/><use href="#s52" x="157" y="621"/><use href="#s49" x="163" y="621"/><use href="#s48" x="169" y="621"/></g>
<g><use href="#s76" x="61" y="646"/><use href="#s73" x="67" y="646"/><use href="#s78" x="73" y="646"/><use href="#s67" x="79" y="646"/><use href="#s48" x="85" y="646"/><use href="#s48" x="91" y="646"/><use href="#s55" x="97" y="646"/><use href="#s49" x="103" y="646"/><use href="#s48" x="109" y="646"/><use href="#s124" x="115" y="646"/><use href="#s78" x="121" y="646"/><use href="#s82" x="127" y="646"/><use href="#s95" x="133" y="646"/><use href="#s48" x="139" y="646"/><use href="#s50" x="145" y="646"/><use href="#s52" x="151" y="646"/><use href="#s52" x="157" y="646"/><use href="#s49" x="163" y="646"/><use href="#s49" x="169" y="646"/></g>
<g><use href="#s76" x="61" y="671"/><use href="#s73" x="67" y="671"/><use href="#s78" x="73" y="671"/><use href="#s67" x="79" y="671"/><use href="#s48" x="85" y="671"/><use href="#s48" x="91" y="671"/><use href="#s55" x="97" y="671"/><use href="#s49" x="103" y="671"/><use href="#s48" x="109" y="671"/><use href="#s124" x="115" y="671"/><use href="#s78" x="121" y="671"/><use href="#s82" x="127" y="671"/><use href="#s95" x="133" y="671"/><use href="#s48" x="139" y="671"/><use href="#s49" x="145" y="671"/><use href="#s53" x="151" y="671"/><use href="#s52" x="157" y="671"/><use href="#s49" x="163" y="671"/><use href="#s51" x="169" y="671"/></g>
</g>
</svg>
<div class="t" style="left:61px;top:14px">chr10:10938850..10939366</div>
<div class="t" style="left:113px;top:33px">10938900</div>
<div class="t" style="left:268px;top:33px">10939000</div>
<div class="t" style="left:423px;top:33px">10939100</div>
<div class="t" style="left:578px;top:33px">10939200</div>
<div class="t" style="left:732px;top:33px">10939300</div>
<div class="t b" style="left:60px;top:67px">Cytogenetic Bands</div>
<div class="t" style="left:61px;top:79px">10p14</div>
<div class="t b" style="left:60px;top:121px">DGV Structural Variants</div>
<div class="t" style="left:61px;top:133px">nsv4339713 (gnomADStructuralVariants)</div>
<div class="t" style="left:61px;top:154px">nsv549964 (Cooper2011)</div>
<div class="t" style="left:61px;top:175px">nsv1047445 (Coe2014)</div>
<div class="t" style="left:61px;top:196px">esv2732884 (Wong2012b)</div>
<div class="t" style="left:261px;top:217px">esv2669113 (1000GenomesConsortiumPhase1)</div>
<div class="t" style="left:399px;top:238px">esv3144 (Wang2008)</div>
<div class="t" style="left:408px;top:259px">dgv799n152 (Chaisson2019)</div>
<div class="t" style="left:606px;top:259px">nsv5586737 (Ebert2021)</div>
<div class="t" style="left:408px;top:280px">esv3679286 (Besenbacher2015)</div>
<div class="t" style="left:408px;top:301px">nsv5599079 (Ebert2021)</div>
<div class="t" style="left:408px;top:322px">nsv5923466 (Almarri2020)</div>
<div class="t" style="left:410px;top:343px">nsv3326075 (Audano2019)</div>
<div class="t" style="left:410px;top:364px">nsv3193442 (Chaisson2019)</div>
<div class="t" style="left:427px;top:385px">nsv4748529 (Quan2021)</div>
<div class="t" style="left:434px;top:406px">esv2732895 (Wong2012b)</div>
<div class="t" style="left:447px;top:427px">nsv6016833 (Wu2021)</div>
<div class="t" style="left:493px;top:448px">nsv1149015 (John2014)</div>
<div class="t" style="left:507px;top:469px">esv1446524 (Levy2007)</div>
<div class="t" style="left:513px;top:490px">nsv1137414 (Alsmadi2014)</div>
<div class="t" style="left:515px;top:511px">nsv958458 (Dogan2014)</div>
<div class="t" style="left:516px;top:532px">esv2732906 (Wong2012b)</div>
<div class="t" style="left:535px;top:553px">nsv1121454 (Alsmadi2014)</div>
<div class="t b" style="left:60px;top:609px">RefSeq Genes</div>
<div class="t" style="left:61px;top:621px">LINC00710|NR_024410</div>
<div class="t" style="left:61px;top:646px">LINC00710|NR_024411</div>
<div class="t" style="left:61px;top:671px">LINC00710|NR_015413</div>
</div>
</body>
</html>
